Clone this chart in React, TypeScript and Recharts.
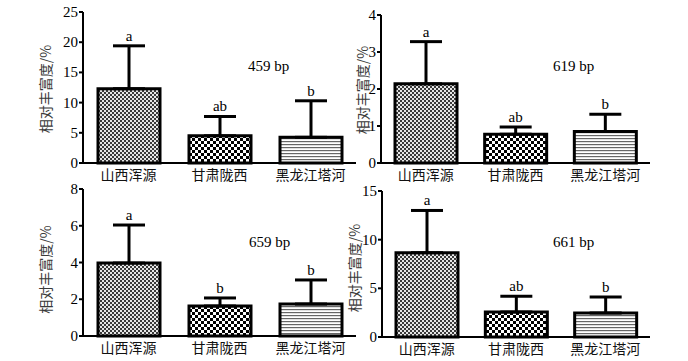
import React from 'react';
import { BarChart, Bar, XAxis, YAxis, ErrorBar, Cell, Label } from 'recharts';

const categories = ['山西浑源', '甘肃陇西', '黑龙江塔河'];
const panelNames = ['459 bp', '619 bp', '659 bp', '661 bp'];

const means459 = [12.3, 4.5, 4.25];
const errs459 = [7.1, 3.2, 6.05];
const letters459 = ['a', 'ab', 'b'];

const means619 = [2.14, 0.78, 0.85];
const errs619 = [1.14, 0.19, 0.47];
const letters619 = ['a', 'ab', 'b'];

const means659 = [3.97, 1.63, 1.74];
const errs659 = [2.07, 0.44, 1.31];
const letters659 = ['a', 'b', 'b'];

const means661 = [8.66, 2.57, 2.47];
const errs661 = [4.34, 1.61, 1.64];
const letters661 = ['a', 'ab', 'b'];

const ticks459 = [0, 5, 10, 15, 20, 25];
const ticks619 = [0, 1, 2, 3, 4];
const ticks659 = [0, 2, 4, 6, 8];
const ticks661 = [0, 5, 10, 15];

const yTitle = '相对丰富度/%';
const fills = ['url(#patFine)', 'url(#patCheck)', 'url(#patLines)'];

const SERIF = '"Liberation Serif", "Times New Roman", serif';
const CJK = '"Noto Sans CJK SC", sans-serif';

function buildRows(means: number[], errs: number[], letters: string[]) {
  return categories.map((c, i) => ({ name: c, value: means[i], err: errs[i], letter: letters[i] }));
}

type PanelCfg = {
  left: number; top: number; width: number; height: number;
  marginTop: number; marginRight: number; yWidth: number;
  titleX: number; titleDy: number;
  ticks: number[]; rows: any[]; name: string; nameX: number; nameY: number;
};

const panels: PanelCfg[] = [
  { left: 0, top: 0, width: 360, height: 185, marginTop: 12, marginRight: 4, yWidth: 83, titleX: 44.5, titleDy: 1.5,
    ticks: ticks459, rows: buildRows(means459, errs459, letters459), name: panelNames[0], nameX: 248, nameY: 66 },
  { left: 300, top: 0, width: 360, height: 185, marginTop: 15, marginRight: 10, yWidth: 81, titleX: 62, titleDy: 1,
    ticks: ticks619, rows: buildRows(means619, errs619, letters619), name: panelNames[1], nameX: 553, nameY: 66 },
  { left: 0, top: 180, width: 360, height: 178, marginTop: 9, marginRight: 4, yWidth: 83, titleX: 44.5, titleDy: 7,
    ticks: ticks659, rows: buildRows(means659, errs659, letters659), name: panelNames[2], nameX: 249, nameY: 242 },
  { left: 300, top: 180, width: 360, height: 179, marginTop: 11, marginRight: 10, yWidth: 82, titleX: 54, titleDy: 4,
    ticks: ticks661, rows: buildRows(means661, errs661, letters661), name: panelNames[3], nameX: 553, nameY: 242 },
];

function LetterLabel(props: any) {
  const { x, y, width, height, index, rows } = props;
  const row = rows[index];
  if (!row || !row.value) return null;
  const pxPerUnit = height / row.value;
  const errTop = y - row.err * pxPerUnit;
  return (
    <text x={x + width / 2} y={errTop - 5} textAnchor="middle" fontFamily={SERIF} fontSize={15} fill="#000">
      {row.letter}
    </text>
  );
}

function YTick(props: any) {
  const { x, y, payload } = props;
  return (
    <text x={x} y={y} textAnchor="end" dominantBaseline="central" fontFamily={SERIF} fontSize={15} fill="#000">
      {payload.value}
    </text>
  );
}

function XTick(props: any) {
  const { x, y, payload } = props;
  return (
    <text x={x} y={y + 8} textAnchor="middle" dominantBaseline="central" fontFamily={CJK} fontSize={14} fill="#111">
      {payload.value}
    </text>
  );
}

function Panel({ cfg }: { cfg: PanelCfg }) {
  return (
    <div style={{ position: 'absolute', left: cfg.left, top: cfg.top }}>
      <BarChart
        width={cfg.width}
        height={cfg.height}
        data={cfg.rows}
        margin={{ top: cfg.marginTop, right: cfg.marginRight, left: 0, bottom: 0 }}
      >
        <XAxis
          dataKey="name"
          height={22}
          tickLine={false}
          tickSize={0}
          tickMargin={3}
          axisLine={{ stroke: '#000', strokeWidth: 2 }}
          tick={<XTick />}
          interval={0}
        />
        <YAxis
          width={cfg.yWidth}
          domain={[cfg.ticks[0], cfg.ticks[cfg.ticks.length - 1]]}
          ticks={cfg.ticks}
          interval={0}
          tickSize={4}
          tickMargin={1}
          axisLine={{ stroke: '#000', strokeWidth: 2 }}
          tickLine={{ stroke: '#000', strokeWidth: 2 }}
          tick={<YTick />}
        >
          <Label
            content={(p: any) => {
              const vb = p.viewBox || {};
              const cx = cfg.titleX;
              const cy = (vb.y ?? 0) + (vb.height ?? 0) / 2 + cfg.titleDy;
              return (
                <text
                  x={cx}
                  y={cy}
                  transform={`rotate(-90, ${cx}, ${cy})`}
                  textAnchor="middle"
                  dominantBaseline="central"
                  fontFamily={CJK}
                  fontSize={14}
                  fill="#3a3a3a"
                >
                  {yTitle}
                </text>
              );
            }}
          />
        </YAxis>
        <Bar
          dataKey="value"
          barSize={62}
          stroke="#000"
          strokeWidth={3}
          isAnimationActive={false}
          label={(p: any) => <LetterLabel {...p} rows={cfg.rows} />}
        >
          {cfg.rows.map((r, i) => (
            <Cell key={r.name} fill={fills[i]} />
          ))}
          <ErrorBar
            dataKey={(d: any) => [0, d.err]}
            width={16}
            stroke="#000"
            strokeWidth={3}
            direction="y"
            isAnimationActive={false}
          />
        </Bar>
      </BarChart>
    </div>
  );
}

export default function App() {
  return (
    <div style={{ position: 'absolute', left: 0, top: 0, width: 688, height: 361, background: '#fff', overflow: 'hidden' }}>
      <svg width={0} height={0} style={{ position: 'absolute' }}>
        <defs>
          <pattern id="patFine" width={4} height={4} patternUnits="userSpaceOnUse">
            <rect width={4} height={4} fill="#e6e6e6" />
            <rect x={0} y={0} width={2} height={2} fill="#3a3a3a" />
            <rect x={2} y={2} width={2} height={2} fill="#3a3a3a" />
          </pattern>
          <pattern id="patCheck" width={6} height={6} patternUnits="userSpaceOnUse">
            <rect width={6} height={6} fill="#fff" />
            <rect x={0} y={0} width={3} height={3} fill="#000" />
            <rect x={3} y={3} width={3} height={3} fill="#000" />
          </pattern>
          <pattern id="patLines" width={4} height={3} patternUnits="userSpaceOnUse">
            <rect width={4} height={3} fill="#fff" />
            <rect x={0} y={0} width={4} height={1.2} fill="#666" />
          </pattern>
        </defs>
      </svg>
      {panels.map((p) => (
        <Panel key={p.name} cfg={p} />
      ))}
      {panels.map((p) => (
        <div
          key={p.name + '-t'}
          style={{
            position: 'absolute',
            left: p.nameX,
            top: p.nameY - 9,
            fontFamily: SERIF,
            fontSize: 15,
            lineHeight: '18px',
            color: '#000',
            whiteSpace: 'nowrap',
          }}
        >
          {p.name}
        </div>
      ))}
    </div>
  );
}
